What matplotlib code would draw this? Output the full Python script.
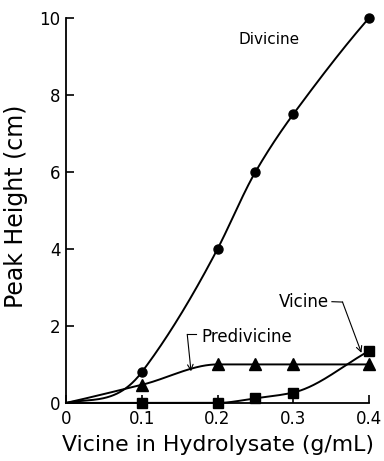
import numpy as np
import matplotlib
matplotlib.use("Agg")
import matplotlib.pyplot as plt

# data
x_div = [0.0, 0.1, 0.2, 0.25, 0.3, 0.4]
y_div = [0.0, 0.8, 4.0, 6.0, 7.5, 10.0]
x_pre = [0.0, 0.1, 0.2, 0.25, 0.3, 0.4]
y_pre = [0.0, 0.47, 1.0, 1.0, 1.0, 1.0]
x_vic = [0.0, 0.1, 0.2, 0.25, 0.3, 0.4]
y_vic = [0.0, 0.0, 0.0, 0.12, 0.27, 1.35]
xticks = [0, 0.1, 0.2, 0.3, 0.4]
xticklabels = ["0", "0.1", "0.2", "0.3", "0.4"]
yticks = [0, 2, 4, 6, 8, 10]


def hermite(x, y, m, xs):
    h = np.diff(x); n = len(x)
    out = np.empty_like(xs)
    for i, xv in enumerate(xs):
        k = min(np.searchsorted(x, xv, side="right") - 1, n - 2)
        t = (xv - x[k]) / h[k]
        h00 = 2*t**3 - 3*t**2 + 1; h10 = t**3 - 2*t**2 + t
        h01 = -2*t**3 + 3*t**2; h11 = t**3 - t**2
        out[i] = h00*y[k] + h10*h[k]*m[k] + h01*y[k+1] + h11*h[k]*m[k+1]
    return out


def pchip(x, y, xs):
    x = np.asarray(x, float); y = np.asarray(y, float)
    h = np.diff(x); d = np.diff(y) / h
    n = len(x); m = np.zeros(n)
    for k in range(1, n - 1):
        if d[k - 1] * d[k] > 0:
            w1 = 2 * h[k] + h[k - 1]; w2 = h[k] + 2 * h[k - 1]
            m[k] = (w1 + w2) / (w1 / d[k - 1] + w2 / d[k])
    m[0] = d[0]; m[-1] = d[-1]
    return hermite(x, y, m, xs)


def akima(x, y, xs):
    x = np.asarray(x, float); y = np.asarray(y, float)
    d = np.diff(y) / np.diff(x)
    n = len(x)
    dd = np.empty(len(d) + 4)
    dd[2:-2] = d
    dd[1] = 2*dd[2] - dd[3]; dd[0] = 2*dd[1] - dd[2]
    dd[-2] = 2*dd[-3] - dd[-4]; dd[-1] = 2*dd[-2] - dd[-3]
    m = np.zeros(n)
    for i in range(n):
        a = abs(dd[i+3] - dd[i+2]); b = abs(dd[i+1] - dd[i])
        if a + b == 0:
            m[i] = 0.5*(dd[i+1] + dd[i+2])
        else:
            m[i] = (a*dd[i+1] + b*dd[i+2]) / (a + b)
    m[0] = max(m[0], 0.5*d[0])
    return hermite(x, y, m, xs)


fig = plt.figure(figsize=(3.84, 4.61), dpi=100)
ax = fig.add_axes([0.172, 0.126, 0.789, 0.835])

xs = np.linspace(0, 0.4, 400)
series = [(x_div, y_div, "o", 6.5, akima), (x_pre, y_pre, "^", 8.5, akima),
          (x_vic, y_vic, "s", 6.5, pchip)]
for xx, yy, mk, ms, fn in series:
    ax.plot(xs, fn(xx, yy, xs), color="black", lw=1.4, clip_on=False)
    pts = [(a, b) for a, b in zip(xx, yy) if a > 0]
    ax.plot([p[0] for p in pts], [p[1] for p in pts], mk, color="black",
            ms=ms, clip_on=False, zorder=5)

ax.set_xlim(0, 0.4)
ax.set_ylim(0, 10)
ax.spines["top"].set_visible(False)
ax.spines["right"].set_visible(False)
ax.spines["left"].set_linewidth(1.3)
ax.spines["bottom"].set_linewidth(1.3)
ax.set_xticks(xticks)
ax.set_xticklabels(xticklabels)
ax.set_yticks(yticks)
ax.tick_params(direction="in", length=6, width=1.2, labelsize=12)
ax.tick_params(axis="x", pad=5)
ax.tick_params(axis="y", pad=4)
ax.set_xlabel("Vicine in Hydrolysate (g/mL)", fontsize=15.8, labelpad=5)
ax.set_ylabel("Peak Height (cm)", fontsize=17, labelpad=6)
ax.yaxis.set_label_coords(-0.125, 0.51)

ax.text(0.268, 9.45, "Divicine", fontsize=11, ha="center", va="center")
ax.text(0.238, 1.72, "Predivicine", fontsize=12, ha="center", va="center")
ax.text(0.314, 2.62, "Vicine", fontsize=12, ha="center", va="center")
arrow = dict(arrowstyle="->,head_length=0.4,head_width=0.2", color="black", lw=0.8,
             shrinkA=0, shrinkB=0)
ax.annotate("", xy=(0.165, 0.82), xytext=(0.160, 1.78), arrowprops=arrow)
ax.plot([0.160, 0.171], [1.78, 1.78], color="black", lw=0.8)
ax.annotate("", xy=(0.39, 1.3), xytext=(0.365, 2.62), arrowprops=arrow)
ax.plot([0.351, 0.365], [2.63, 2.62], color="black", lw=0.8)

fig.savefig("out.png", dpi=100)
